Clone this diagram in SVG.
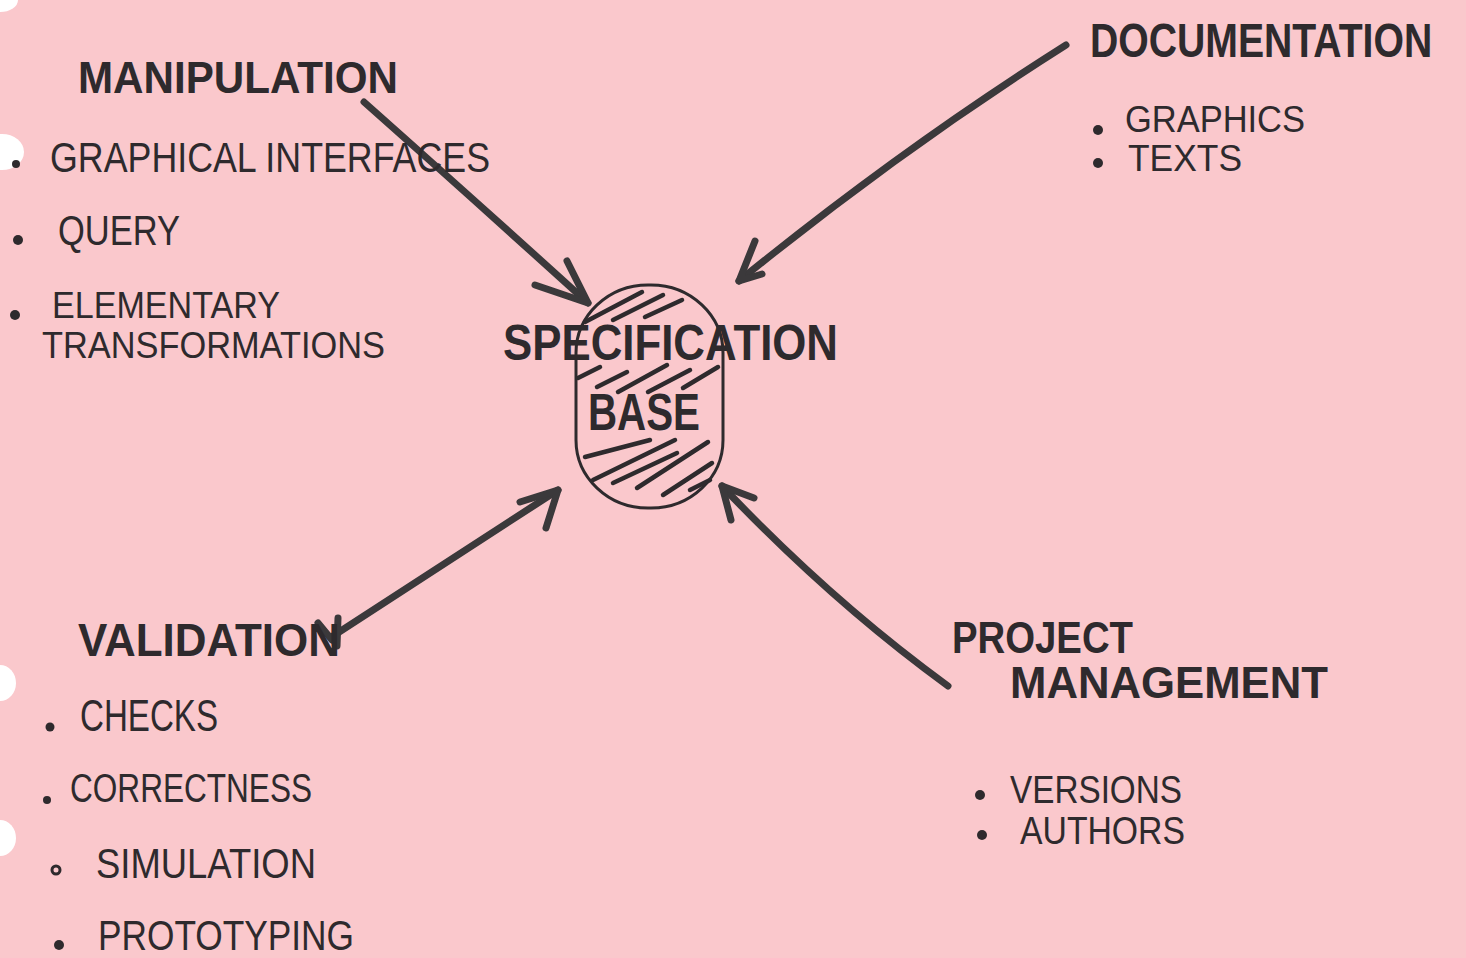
<svg xmlns="http://www.w3.org/2000/svg" width="1466" height="958" viewBox="0 0 1466 958">
  <style>
    .head { font-family: "Liberation Sans", "DejaVu Sans", sans-serif; font-weight: bold; fill: #2e2a2d; }
    .item { font-family: "Liberation Sans", "DejaVu Sans", sans-serif; fill: #2e2a2d; }
    .dot { fill: #2e2a2d; }
    .conn { fill: none; stroke: #3b393b; stroke-width: 7; stroke-linecap: round; stroke-linejoin: round; }
    .hatch { fill: none; stroke: #2e2a2d; stroke-width: 4.5; stroke-linecap: round; }
    .hole { fill: #ffffff; }
  </style>

  <!-- paper -->
  <rect x="0" y="0" width="1466" height="958" fill="#fac8cc"/>
  <!-- punched binder holes along the left edge -->
  <ellipse class="hole" cx="0" cy="0" rx="18" ry="12"/>
  <ellipse class="hole" cx="2" cy="152" rx="22" ry="18"/>
  <ellipse class="hole" cx="0" cy="683" rx="16" ry="18"/>
  <ellipse class="hole" cx="0" cy="838" rx="16" ry="18"/>

  <!-- connectors -->
  <g id="connectors">
    <!-- manipulation -> base -->
    <path class="conn" d="M364,102 Q480,205 588,303"/>
    <path class="conn" d="M535,285 L588,303 L567,261"/>
    <!-- documentation -> base -->
    <path class="conn" d="M1066,45 Q900,150 739,281"/>
    <path class="conn" d="M755,241 L739,281 L762,274"/>
    <!-- validation <-> base -->
    <path class="conn" d="M333,636 Q450,560 558,490"/>
    <path class="conn" d="M520,502 L558,490 L546,528"/>
    <path class="conn" d="M318,623 L332,640 M338,618 L337,646"/>
    <!-- project management -> base -->
    <path class="conn" d="M948,686 Q830,600 722,486"/>
    <path class="conn" d="M731,520 L722,486 L754,498"/>
  </g>

  <!-- central specification base -->
  <g id="node-specification-base">
    <rect x="576" y="285" width="147" height="223" rx="72" ry="68" fill="none" stroke="#2e2a2d" stroke-width="3"/>
    <path class="hatch" d="M585,322 L642,292 M613,320 L663,295 M645,317 L682,300
                           M578,378 L600,367 M597,387 L627,372 M618,392 L667,365 M648,392 L690,370 M683,388 L718,367
                           M585,457 L650,440 M593,480 L675,440 M613,483 L677,453 M637,488 L708,442 M663,495 L712,463 M690,490 L710,480"/>
    <text class="head" x="503" y="360" font-size="50" textLength="335" lengthAdjust="spacingAndGlyphs">SPECIFICATION</text>
    <text class="head" x="588" y="430" font-size="52" textLength="112" lengthAdjust="spacingAndGlyphs">BASE</text>
  </g>

  <!-- manipulation -->
  <g id="node-manipulation">
    <text class="head" x="78" y="93" font-size="44" textLength="320" lengthAdjust="spacingAndGlyphs">MANIPULATION</text>
    <circle class="dot" cx="16" cy="164" r="4"/>
    <text class="item" x="50" y="172" font-size="42" textLength="440" lengthAdjust="spacingAndGlyphs">GRAPHICAL INTERFACES</text>
    <circle class="dot" cx="18" cy="240" r="5"/>
    <text class="item" x="58" y="245" font-size="42" textLength="122" lengthAdjust="spacingAndGlyphs">QUERY</text>
    <circle class="dot" cx="15" cy="315" r="5"/>
    <text class="item" x="52" y="318" font-size="37" textLength="228" lengthAdjust="spacingAndGlyphs">ELEMENTARY</text>
    <text class="item" x="42" y="358" font-size="37" textLength="343" lengthAdjust="spacingAndGlyphs">TRANSFORMATIONS</text>
  </g>

  <!-- documentation: heading squeezed horizontally to stay inside the sheet -->
  <g id="node-documentation">
    <text class="head" transform="translate(1090,57) scale(0.816,1)" x="0" y="0" font-size="48">DOCUMENTATION</text>
    <circle class="dot" cx="1098" cy="130" r="5"/>
    <text class="item" x="1125" y="132" font-size="37" textLength="180" lengthAdjust="spacingAndGlyphs">GRAPHICS</text>
    <circle class="dot" cx="1098" cy="163" r="5"/>
    <text class="item" x="1128" y="171" font-size="37" textLength="114" lengthAdjust="spacingAndGlyphs">TEXTS</text>
  </g>

  <!-- validation -->
  <g id="node-validation">
    <text class="head" x="78" y="656" font-size="46" textLength="262" lengthAdjust="spacingAndGlyphs">VALIDATION</text>
    <circle class="dot" cx="50" cy="727" r="4.5"/>
    <text class="item" x="80" y="731" font-size="44" textLength="138" lengthAdjust="spacingAndGlyphs">CHECKS</text>
    <circle class="dot" cx="47" cy="800" r="4"/>
    <text class="item" x="70" y="802" font-size="40" textLength="242" lengthAdjust="spacingAndGlyphs">CORRECTNESS</text>
    <circle cx="56" cy="870" r="4" fill="none" stroke="#2e2a2d" stroke-width="3"/>
    <text class="item" x="96" y="878" font-size="42" textLength="220" lengthAdjust="spacingAndGlyphs">SIMULATION</text>
    <circle class="dot" cx="59" cy="945" r="5"/>
    <text class="item" x="98" y="950" font-size="42" textLength="256" lengthAdjust="spacingAndGlyphs">PROTOTYPING</text>
  </g>

  <!-- project management -->
  <g id="node-project-management">
    <text class="head" x="952" y="653" font-size="44" textLength="181" lengthAdjust="spacingAndGlyphs">PROJECT</text>
    <text class="head" x="1010" y="698" font-size="44" textLength="318" lengthAdjust="spacingAndGlyphs">MANAGEMENT</text>
    <circle class="dot" cx="980" cy="795" r="5"/>
    <text class="item" x="1010" y="803" font-size="38" textLength="172" lengthAdjust="spacingAndGlyphs">VERSIONS</text>
    <circle class="dot" cx="982" cy="835" r="5"/>
    <text class="item" x="1020" y="844" font-size="38" textLength="165" lengthAdjust="spacingAndGlyphs">AUTHORS</text>
  </g>
</svg>
